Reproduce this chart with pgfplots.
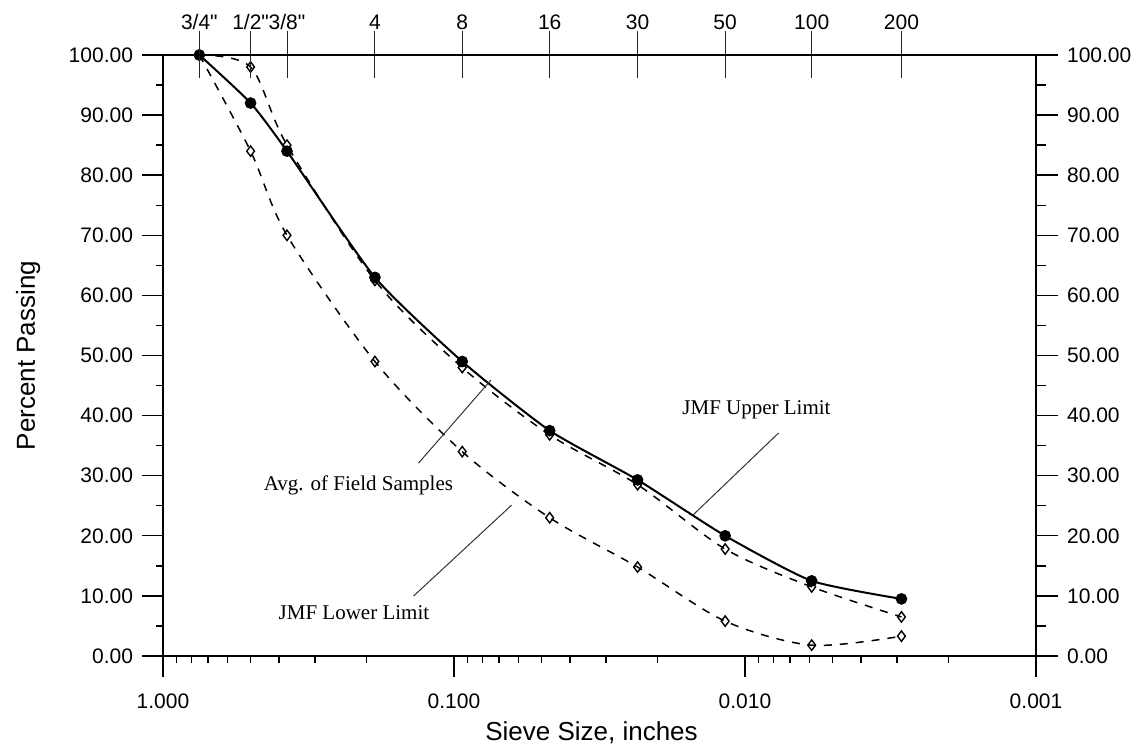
\documentclass[border=0pt]{standalone}
\usepackage{fontspec}
\setmainfont{Liberation Sans}
\newfontfamily\timesf{Liberation Serif}
\usepackage{pgfplots}
\pgfplotsset{compat=1.18}
\begin{document}
\begin{tikzpicture}
\begin{axis}[name=ax, clip=false,
  scale only axis, width=436.5pt, height=300.5pt,
  xmode=log, x dir=reverse, xmin=0.001, xmax=1, ymin=0, ymax=100,
  axis line style={line width=0.7pt},
  tick style={line width=0.7pt, black},
  tick label style={font=\fontsize{10.5}{12}\selectfont},
  tick align=outside,
  xtick pos=left, ytick pos=left,
  xtick={0.001,0.01,0.1,1},
  xticklabels={0.001,0.010,0.100,1.000},
  minor xtick={0.002,0.003,0.004,0.005,0.006,0.007,0.008,0.009,0.02,0.03,0.04,0.05,0.06,0.07,0.08,0.09,0.2,0.3,0.4,0.5,0.6,0.7,0.8,0.9},
  ytick={0,10,20,30,40,50,60,70,80,90,100},
  yticklabels={0.00,10.00,20.00,30.00,40.00,50.00,60.00,70.00,80.00,90.00,100.00},
  minor ytick={5,15,25,35,45,55,65,75,85,95},
  major tick length=10.5pt, minor tick length=3.5pt,
  xticklabel shift=5pt, yticklabel shift=1pt,
  xlabel={Sieve Size, inches},
  ylabel={Percent Passing},
  x label style={at={(axis description cs:0.5,-0.128)}, anchor=center, xshift=-4pt, font=\fontsize{13}{15}\selectfont},
  y label style={at={(axis description cs:-0.1546,0.5)}, anchor=center, font=\fontsize{13}{15}\selectfont},
]
\addplot[black, line width=0.75pt, dash pattern=on 4pt off 4pt, smooth, tension=0.5,
  mark=diamond, mark size=2.6pt, mark options={solid, fill=white, line width=0.7pt}]
  coordinates {(0.75,100)(0.5,84)(0.375,70)(0.187,49)(0.0937,34)(0.0469,23)(0.0234,14.8)(0.0117,5.8)(0.0059,1.8)(0.0029,3.3)};
\addplot[black, line width=0.75pt, dash pattern=on 4pt off 4pt, smooth, tension=0.5,
  mark=diamond, mark size=2.6pt, mark options={solid, fill=white, line width=0.7pt}]
  coordinates {(0.75,100)(0.5,98)(0.375,85)(0.187,62.5)(0.0937,48)(0.0469,36.8)(0.0234,28.5)(0.0117,17.8)(0.0059,11.5)(0.0029,6.5)};
\addplot[black, line width=1pt, smooth, tension=0.35,
  mark=*, mark size=2.4pt, mark options={solid, fill=black}]
  coordinates {(0.75,100)(0.5,92)(0.375,84)(0.187,63)(0.0937,49)(0.0469,37.5)(0.0234,29.3)(0.0117,20)(0.0059,12.5)(0.0029,9.5)};
\draw[black!80, line width=0.5pt] (axis cs:0.00767,37.1) -- (axis cs:0.01506,23.5);
\draw[black!80, line width=0.5pt] (axis cs:0.1324,32.1) -- (axis cs:0.0747,45.9);
\draw[black!80, line width=0.5pt] (axis cs:0.1377,9.98) -- (axis cs:0.0634,25.1);
\node[font=\timesf\fontsize{10.5}{12}\selectfont, anchor=center] at (axis cs:0.00913,40.93) {JMF Upper Limit};
\node[font=\timesf\fontsize{10.5}{12}\selectfont, anchor=center] at (axis cs:0.2130,28.45) {Avg. of Field Samples};
\node[font=\timesf\fontsize{10.5}{12}\selectfont, anchor=center] at (axis cs:0.2207,7.24) {JMF Lower Limit};
\end{axis}
\begin{axis}[at={(ax.south west)}, anchor=south west,
  scale only axis, width=436.5pt, height=300.5pt,
  xmode=log, x dir=reverse, xmin=0.001, xmax=1, ymin=0, ymax=100,
  axis line style={line width=0.7pt},
  tick style={line width=0.45pt, black!85},
  tick label style={font=\fontsize{10.5}{12}\selectfont},
  axis x line*=top, axis y line=none,
  tick align=center, major tick length=23.5pt,
  xtick={0.75,0.5,0.375,0.187,0.0937,0.0469,0.0234,0.0117,0.0059,0.0029},
  xticklabels={3/4\textquotedbl,1/2\textquotedbl,3/8\textquotedbl,4,8,16,30,50,100,200},
  xticklabel shift=-2.5pt,
]
\end{axis}
\begin{axis}[at={(ax.south west)}, anchor=south west,
  scale only axis, width=436.5pt, height=300.5pt,
  xmin=0, xmax=1, ymin=0, ymax=100,
  axis line style={line width=0.7pt},
  tick style={line width=0.7pt, black},
  tick label style={font=\fontsize{10.5}{12}\selectfont},
  axis y line*=right, axis x line=none,
  tick align=outside, major tick length=11pt, minor tick length=5pt,
  ytick={0,10,20,30,40,50,60,70,80,90,100},
  yticklabels={0.00,10.00,20.00,30.00,40.00,50.00,60.00,70.00,80.00,90.00,100.00},
  minor ytick={5,15,25,35,45,55,65,75,85,95},
  yticklabel shift=1pt,
]
\end{axis}
\pgfresetboundingbox
\path[use as bounding box] (ax.south west) ++(-81.5pt,-48.5pt) rectangle ++(572pt,376.5pt);
\end{tikzpicture}
\end{document}
